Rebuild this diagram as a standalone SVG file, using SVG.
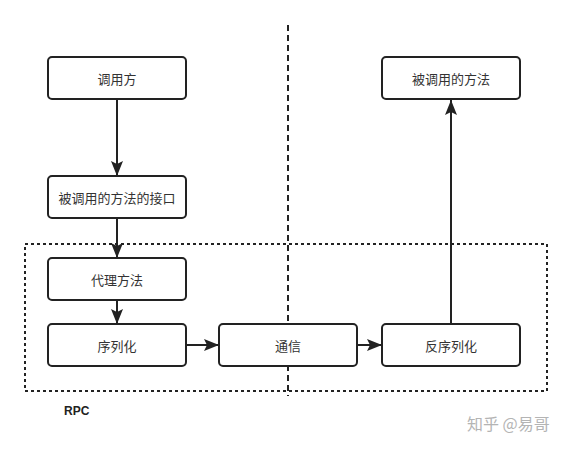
<svg xmlns="http://www.w3.org/2000/svg" width="571" height="450" viewBox="0 0 571 450">
<style>
.box{fill:#fff;stroke:#222;stroke-width:2}
.lbl{font-family:"Noto Sans CJK SC","Liberation Sans",sans-serif;font-size:13px;fill:#333;text-anchor:middle;dominant-baseline:central}
.edge{fill:none;stroke:#222;stroke-width:2}
</style>
<defs>
<marker id="arr" markerUnits="userSpaceOnUse" markerWidth="16" markerHeight="12" viewBox="0 0 16 12" refX="15" refY="6" orient="auto">
<path d="M0,0 L15,6 L0,12 L3,6 Z" fill="#222"/>
</marker>
</defs>
<rect width="571" height="450" fill="#fff"/>
<g id="rpc-frame">
<line x1="288" y1="25" x2="288" y2="396" stroke="#222" stroke-width="2" stroke-dasharray="6 4"/>
<rect x="25" y="244" width="522" height="147" fill="none" stroke="#222" stroke-width="2" stroke-dasharray="3 3"/>
<text x="64" y="415" font-family="Liberation Sans,sans-serif" font-size="12" font-weight="bold" fill="#222">RPC</text>
</g>
<g id="connectors">
<line class="edge" x1="117" y1="100" x2="117" y2="176" marker-end="url(#arr)"/>
<line class="edge" x1="117" y1="218" x2="117" y2="258" marker-end="url(#arr)"/>
<line class="edge" x1="117" y1="300" x2="117" y2="324" marker-end="url(#arr)"/>
<line class="edge" x1="186" y1="345" x2="219" y2="345" marker-end="url(#arr)"/>
<line class="edge" x1="357" y1="345" x2="382" y2="345" marker-end="url(#arr)"/>
<line class="edge" x1="451" y1="324" x2="451" y2="100" marker-end="url(#arr)"/>
</g>
<g id="caller"><rect class="box" x="48" y="57" width="138" height="42" rx="4"/><text class="lbl" x="117" y="78">调用方</text></g>
<g id="interface"><rect class="box" x="48" y="176" width="138" height="42" rx="4"/><text class="lbl" x="117" y="197">被调用的方法的接口</text></g>
<g id="proxy"><rect class="box" x="48" y="258" width="138" height="42" rx="4"/><text class="lbl" x="117" y="279">代理方法</text></g>
<g id="serialize"><rect class="box" x="48" y="324" width="138" height="42" rx="4"/><text class="lbl" x="117" y="345">序列化</text></g>
<g id="comm"><rect class="box" x="219" y="324" width="138" height="42" rx="4"/><text class="lbl" x="288" y="345">通信</text></g>
<g id="deserialize"><rect class="box" x="382" y="324" width="138" height="42" rx="4"/><text class="lbl" x="451" y="345">反序列化</text></g>
<g id="callee"><rect class="box" x="382" y="57" width="138" height="42" rx="4"/><text class="lbl" x="451" y="78">被调用的方法</text></g>
<text x="467" y="430" font-family="Noto Sans CJK SC,sans-serif" font-size="16" fill="#b4b4b4">知乎 @易哥</text>
</svg>
